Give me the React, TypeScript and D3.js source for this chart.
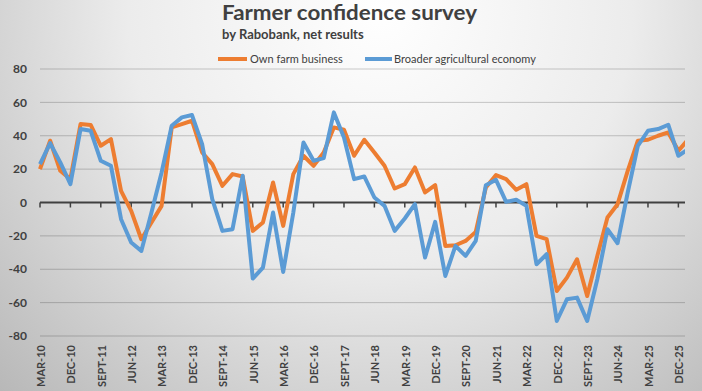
import React from 'react';
import * as d3 from 'd3';

// quarterly survey, Mar-10 .. Mar-26
const quarters = [
  'MAR-10', 'JUN-10', 'SEPT-10', 'DEC-10', 'MAR-11', 'JUN-11', 'SEPT-11', 'DEC-11',
  'MAR-12', 'JUN-12', 'SEPT-12', 'DEC-12', 'MAR-13', 'JUN-13', 'SEPT-13', 'DEC-13',
  'MAR-14', 'JUN-14', 'SEPT-14', 'DEC-14', 'MAR-15', 'JUN-15', 'SEPT-15', 'DEC-15',
  'MAR-16', 'JUN-16', 'SEPT-16', 'DEC-16', 'MAR-17', 'JUN-17', 'SEPT-17', 'DEC-17',
  'MAR-18', 'JUN-18', 'SEPT-18', 'DEC-18', 'MAR-19', 'JUN-19', 'SEPT-19', 'DEC-19',
  'MAR-20', 'JUN-20', 'SEPT-20', 'DEC-20', 'MAR-21', 'JUN-21', 'SEPT-21', 'DEC-21',
  'MAR-22', 'JUN-22', 'SEPT-22', 'DEC-22', 'MAR-23', 'JUN-23', 'SEPT-23', 'DEC-23',
  'MAR-24', 'JUN-24', 'SEPT-24', 'DEC-24', 'MAR-25', 'JUN-25', 'SEPT-25', 'DEC-25',
  'MAR-26',
];

const tickLabels = [
  'MAR-10', 'DEC-10', 'SEPT-11', 'JUN-12', 'MAR-13', 'DEC-13', 'SEPT-14', 'JUN-15',
  'MAR-16', 'DEC-16', 'SEPT-17', 'JUN-18', 'MAR-19', 'DEC-19', 'SEPT-20', 'JUN-21',
  'MAR-22', 'DEC-22', 'SEPT-23', 'JUN-24', 'MAR-25', 'DEC-25',
];

const ownFarm = [
  20, 37, 19, 14, 47, 46.5, 34, 38, 7, -5, -22, -12, -2,
  45, 47, 49, 30, 23, 10, 17, 15.6, -17, -12, 12, -14, 17,
  28, 22, 30, 45, 43.6, 28, 37.6, 30, 22, 8.4, 11, 21, 6,
  10.4, -26, -25.6, -23, -17.6, 9, 16.4, 14, 7.6, 11, -20, -22, -53,
  -45, -34, -56, -32, -9, -1, 19, 37, 37.6, 40, 42, 31, 38,
];

const broader = [
  23, 35.6, 24, 11, 44, 43, 25, 22, -10, -24, -29, -6, 18,
  46, 51, 52.4, 35, 2, -17, -16, 16, -45.6, -39, -6, -41.6, -6,
  36, 25, 26.6, 54, 39, 14, 15.6, 3, -2, -17, -9.6, -1, -33,
  -11.6, -44, -26, -32, -23, 10.4, 13.6, 0.4, 1.6, -2, -37, -31, -71,
  -58, -57, -71, -46, -16, -24.4, 6, 34, 43, 44, 46.6, 28, 32,
];

const yTicks = [-80, -60, -40, -20, 0, 20, 40, 60, 80];

const W = 702;
const H = 391;
const left = 40;
const right = 685;
const font = 'Lato, "Open Sans", sans-serif';
const textColor = '#404040';

export default function App() {
  const x = d3.scalePoint<string>().domain(quarters).range([left, left + 64 * 10.133]);
  const y = d3.scaleLinear().domain([-80, 80]).range([336, 69]);

  const line = d3.line<number>()
    .x((_, i) => x(quarters[i]) as number)
    .y(d => y(d));

  return (
    <svg width={W} height={H} style={{ position: 'absolute', left: 0, top: 0 }}>
      <defs>
        <radialGradient id="bg" gradientUnits="userSpaceOnUse" cx={380} cy={10} r={560}>
          <stop offset="0" stopColor="#ffffff" />
          <stop offset="0.45" stopColor="#ececec" />
          <stop offset="1" stopColor="#b4b4b4" />
        </radialGradient>
        <clipPath id="plot">
          <rect x={0} y={0} width={right} height={H} />
        </clipPath>
      </defs>
      <rect width={W} height={H} fill="url(#bg)" />

      {/* title */}
      <text x={222} y={20} fontFamily={font} fontWeight={700} fontSize={20} fill={textColor}
        textLength={255} lengthAdjust="spacingAndGlyphs">
        Farmer confidence survey
      </text>
      <text x={222} y={39} fontFamily={font} fontWeight={700} fontSize={13} fill={textColor}>
        by Rabobank, net results
      </text>

      {/* legend */}
      <line x1={218} x2={247} y1={59} y2={59} stroke="#ED7D31" strokeWidth={4} />
      <text x={250} y={62.5} fontFamily={font} fontSize={11} fill={textColor}>Own farm business</text>
      <line x1={365} x2={392} y1={59} y2={59} stroke="#5B9BD5" strokeWidth={4} />
      <text x={394} y={62.5} fontFamily={font} fontSize={11} fill={textColor}>Broader agricultural economy</text>

      {/* y gridlines + labels */}
      {yTicks.map(t => (
        <g key={t}>
          {t !== 0 && (
            <line x1={left} x2={right} y1={y(t)} y2={y(t)} stroke="#000" strokeOpacity={0.2} strokeWidth={1} />
          )}
          <text x={27} y={y(t)} dy="0.35em" textAnchor="end" fontFamily={font} fontWeight={700}
            fontSize={12} fill={textColor}>{t}</text>
        </g>
      ))}

      {/* zero axis with ticks */}
      <line x1={left} x2={right} y1={y(0)} y2={y(0)} stroke="#404040" strokeWidth={2} />
      {tickLabels.map(q => (
        <line key={q} x1={x(q)} x2={x(q)} y1={y(0)} y2={y(0) + 5} stroke="#404040" strokeWidth={1.5} />
      ))}

      {/* x labels */}
      {tickLabels.map(q => (
        <text key={q} transform={`translate(${(x(q) as number) + 1},345) rotate(-90)`} textAnchor="end"
          dy="0.35em" fontFamily={font} fontWeight={700} fontSize={11} fill={textColor}>{q}</text>
      ))}

      {/* series */}
      <g clipPath="url(#plot)">
        <path d={line(ownFarm) ?? ''} fill="none" stroke="#ED7D31" strokeWidth={4} strokeLinejoin="round" />
        <path d={line(broader) ?? ''} fill="none" stroke="#5B9BD5" strokeWidth={4} strokeLinejoin="round" />
      </g>
    </svg>
  );
}
